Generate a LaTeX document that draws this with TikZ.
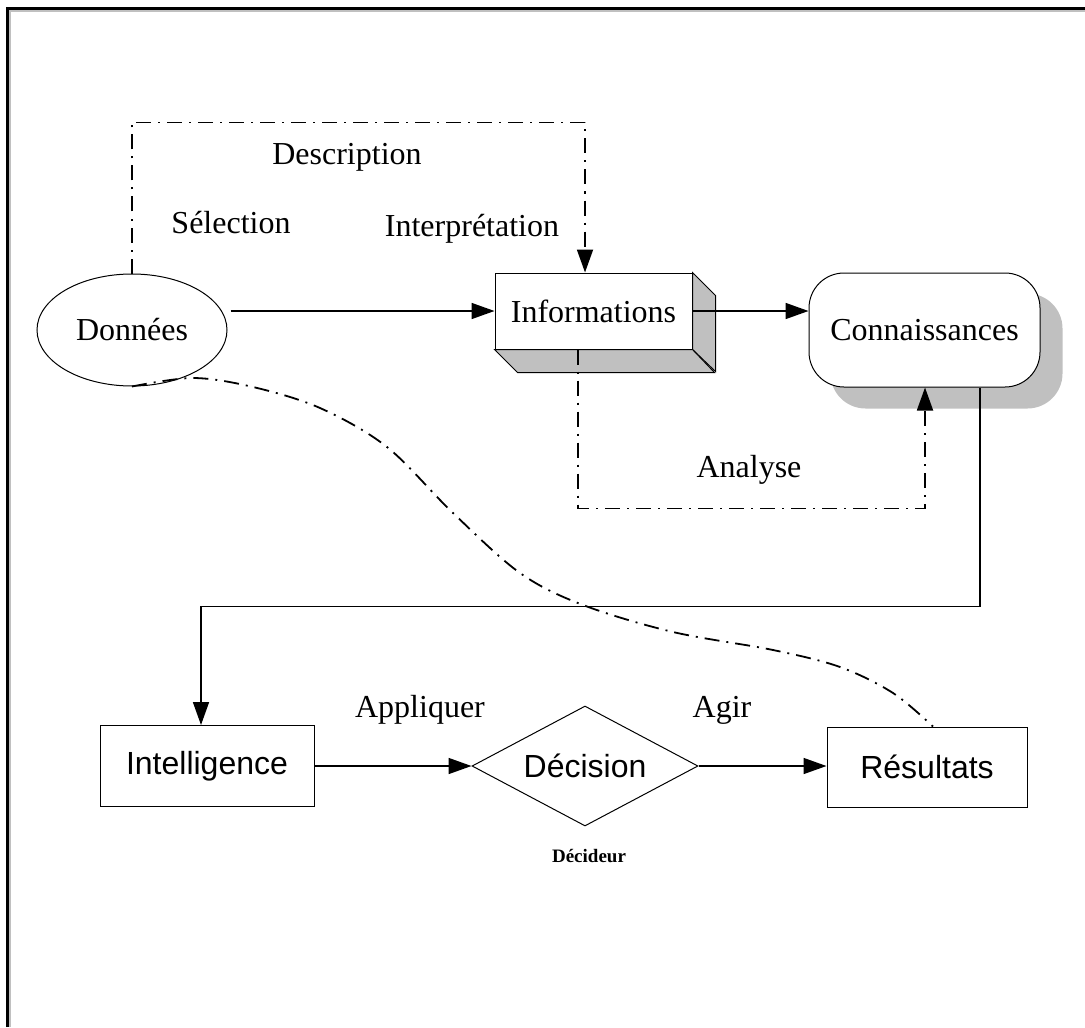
\documentclass[tikz,border=0pt]{standalone}
\usepackage{fontspec}
\setmainfont{Liberation Serif}
\setsansfont{Liberation Sans}
\usetikzlibrary{shapes.geometric,arrows.meta,backgrounds}
\definecolor{boxgray}{HTML}{C0C0C0}
\tikzset{
  box/.style={draw,line width=0.5pt,inner sep=0pt,font=\fontsize{16}{19}\selectfont},
  lbl/.style={inner sep=0pt,font=\fontsize{16}{19}\selectfont},
  arr/.style={line width=0.8pt,-{Triangle[length=11.5pt,width=8pt]}},
  dd/.style={line width=0.9pt,dash pattern=on 7.5pt off 3.5pt on 1pt off 3.5pt},
}
\begin{document}
\begin{tikzpicture}[x=0.5pt,y=-0.5pt]
\useasboundingbox (0,0) rectangle (1085,1027);
% frame (cropped)
\draw[draw=boxgray,line width=0.6pt] (10,1027) -- (10,11) -- (1085,11);
\draw[line width=1.5pt] (7.5,1027) -- (7.5,8.5) -- (1085,8.5);

% nodes
\node[box,ellipse,minimum width=95pt,minimum height=56pt] (don) at (132,330) {Données};
\node[box,rectangle,minimum width=98.5pt,minimum height=38pt] (inf) at (593.5,311) {Informations};
\filldraw[fill=boxgray,draw=black,line width=0.5pt] (inf.north east) -- ++(23,23) -- ++(0,76) -- (inf.south east) -- cycle;
\filldraw[fill=boxgray,draw=black,line width=0.5pt] (inf.south west) -- ++(23,23) -- ++(197,0) -- (inf.south east) -- cycle;
\node[box,rectangle,rounded corners=17.5pt,fill=white,minimum width=115.5pt,minimum height=57pt] (con) at (924.5,330) {Connaissances};
\begin{scope}[on background layer]
\fill[fill=boxgray,rounded corners=17.5pt] ([shift={(22,21)}]con.south west) rectangle ([shift={(22,21)}]con.north east);
\end{scope}
\node[box,rectangle,font=\sffamily\fontsize{16}{19}\selectfont,minimum width=107pt,minimum height=40.5pt] (int) at (207,766) {Intelligence};
\node[box,diamond,aspect=1.9,font=\sffamily\fontsize{16}{19}\selectfont,minimum width=113pt,minimum height=60pt] (dec) at (585,766) {Décision};
\node[box,rectangle,font=\sffamily\fontsize{16}{19}\selectfont,minimum width=100pt,minimum height=40pt] (res) at (927,767) {Résultats};

% labels
\node[lbl] (ldesc) at (347,157) {Description};
\node[lbl] (lsel) at (231,223) {Sélection};
\node[lbl] (linterp) at (472,229) {Interprétation};
\node[lbl] (lana) at (749,470) {Analyse};
\node[lbl] (lapp) at (420,710) {Appliquer};
\node[lbl] (lagir) at (722,710) {Agir};
\node[inner sep=0pt,font=\bfseries\fontsize{9.5}{11}\selectfont] (ldecid) at (589,856) {Décideur};

% connectors
\draw[dd,-{Triangle[length=11.5pt,width=8pt]}] (don.north) -- ++(0,-151) -| ([xshift=-4.25pt]inf.north);
\draw[arr] ([xshift=1.5pt]don.east |- inf.west) -- (inf.west);
\draw[arr] (inf.east) -- (inf.east -| con.west);
\draw[dd,-{Triangle[length=11.5pt,width=8pt]}] ([xshift=-7.75pt]inf.south) -- ++(0,159) -| ([xshift=0.25pt]con.south);
\draw[arr] ([xshift=27.75pt]con.south) -- ++(0,219) -| ([xshift=-3pt]int.north);
\draw[arr] (int.east) -- (dec.west);
\draw[arr] (dec.east) -- (dec.east -| res.west);
\draw[dd] plot[smooth,tension=0.55] coordinates {(don.south) (193,378) (253,387) (320,408) (387,447) (453,513) (520,573) (583,605) (673,632) (773,650) (840,667) (893,693) ([xshift=3pt]res.north)};
\end{tikzpicture}
\end{document}
